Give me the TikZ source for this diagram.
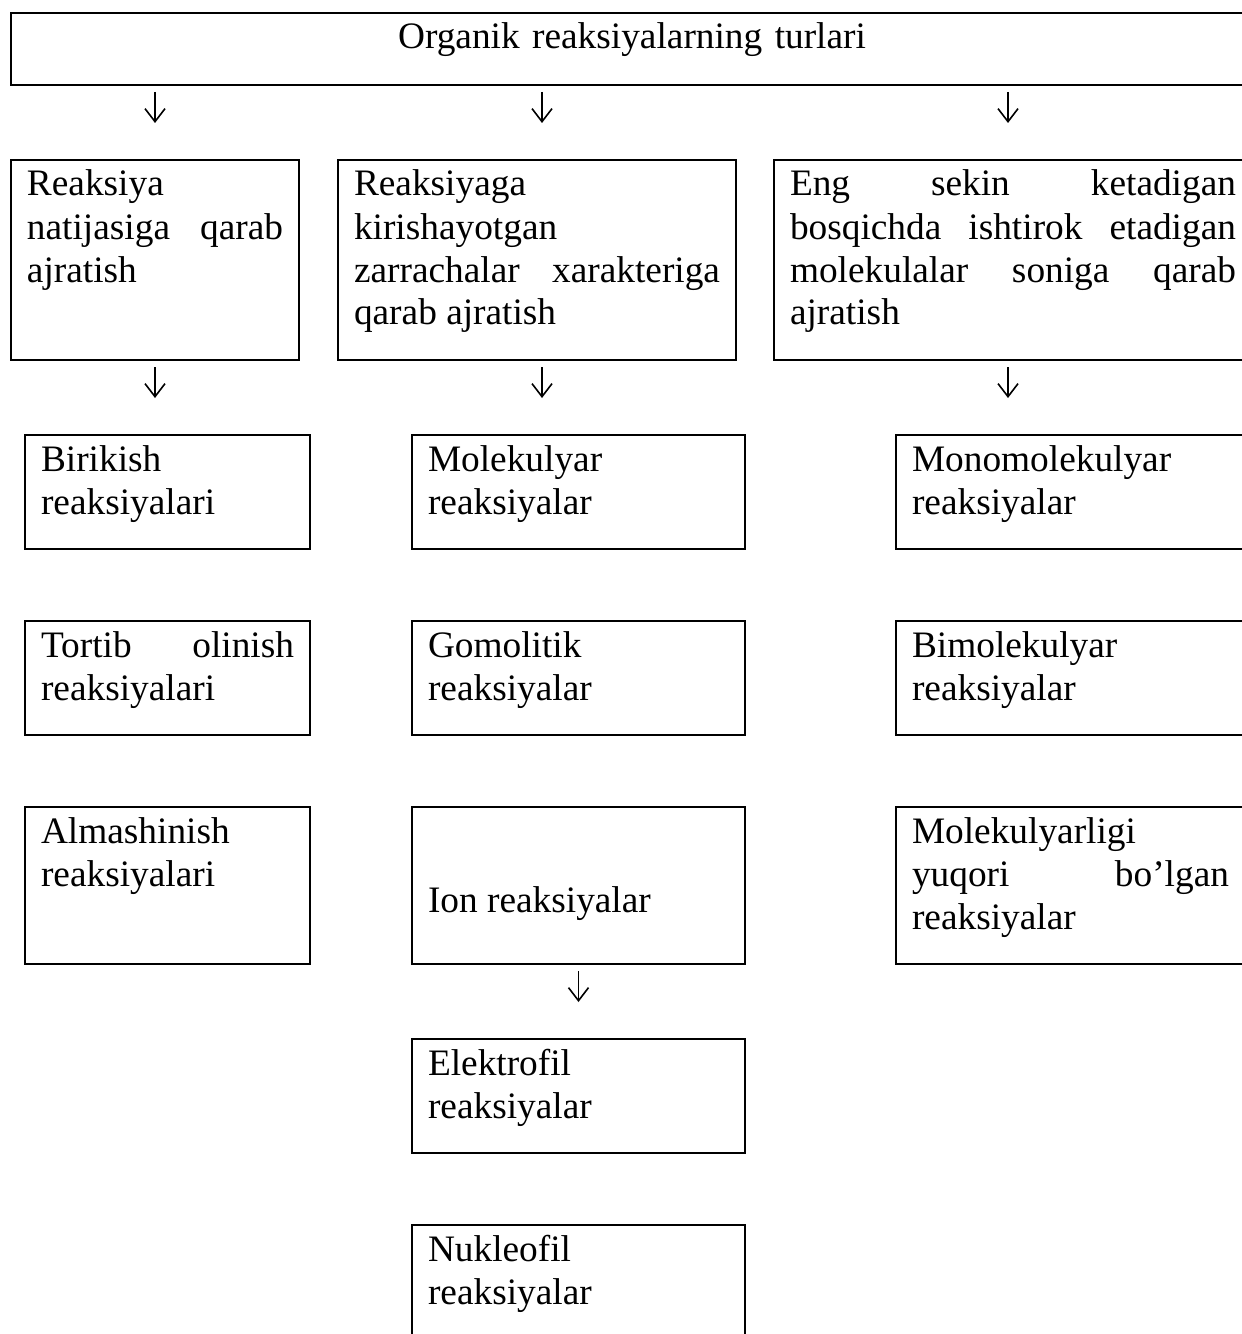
\documentclass[tikz,border=0pt]{standalone}
\usepackage{fontspec}
\setmainfont{Liberation Serif}
\usetikzlibrary{arrows.meta}
\hyphenpenalty=10000
\tolerance=10000
\tikzset{
  cell/.style 2 args={draw, line width=0.75pt, anchor=north west,
    inner xsep=6pt, inner ysep=0pt, align=justify,
    text width=#1pt, text height=13.5pt, text depth=#2pt,
    font=\fontsize{14}{16.125}\selectfont},
  arr/.style={-{Straight Barb[length=4.9pt,width=7.5pt]}, line width=0.6pt,
    shorten <=2.25pt, shorten >=13.5pt}
}
\begin{document}
\begin{tikzpicture}[x=0.375pt, y=-0.375pt]
        \useasboundingbox (0,0) rectangle (1241,1334);
        % sarlavha
        \node[cell={453.75}{13.5}, align=center] (tur) at (10,12) {Organik reaksiyalarning turlari};
        % ajratish turlari
        \node[cell={96}{61.5}] (natija) at (10,159) {Reaksiya\\ natijasiga qarab\linebreak ajratish};
        \node[cell={137.25}{61.5}] (zarra) at (337,159) {Reaksiyaga\\ kirishayotgan\\ zarrachalar xarakteriga\linebreak qarab ajratish};
        \node[cell={167.25}{61.5}] (bosqich) at (773,159) {Eng sekin ketadigan\linebreak bosqichda ishtirok etadigan\linebreak molekulalar soniga qarab\linebreak ajratish};
        % 1-ustun
        \node[cell={94.875}{29.25}] (birik) at (24,434) {Birikish\\ reaksiyalari};
        \node[cell={94.875}{29.25}] (tortib) at (24,620) {Tortib olinish\linebreak reaksiyalari};
        \node[cell={94.875}{45.375}] (almash) at (24,806) {Almashinish\\ reaksiyalari};
        % 2-ustun
        \node[cell={112.875}{29.25}] (molek) at (411,434) {Molekulyar\\ reaksiyalar};
        \node[cell={112.875}{29.25}] (gomol) at (411,620) {Gomolitik\\ reaksiyalar};
        \node[cell={112.875}{19.5}, text height=39.375pt] (ion) at (411,806) {Ion reaksiyalar};
        \node[cell={112.875}{29.25}] (elek) at (411,1038) {Elektrofil\\ reaksiyalar};
        \node[cell={112.875}{29.25}] (nukl) at (411,1224) {Nukleofil\\ reaksiyalar};
        % 3-ustun
        \node[cell={118.875}{29.25}] (mono) at (895,434) {Monomolekulyar\\ reaksiyalar};
        \node[cell={118.875}{29.25}] (bimol) at (895,620) {Bimolekulyar\\ reaksiyalar};
        \node[cell={118.875}{45.375}] (yuqori) at (895,806) {Molekulyarligi\\ yuqori bo’lgan\linebreak reaksiyalar};
        % strelkalar
        \draw[arr] (natija.north |- tur.south) -- (natija.north);
        \draw[arr] ([xshift=1.875pt]zarra.north |- tur.south) -- ([xshift=1.875pt]zarra.north);
        \draw[arr] ([xshift=-1.875pt]bosqich.north |- tur.south) -- ([xshift=-1.875pt]bosqich.north);
        \draw[arr] (natija.south) -- (natija.south |- birik.north);
        \draw[arr] ([xshift=1.875pt]zarra.south) -- ([xshift=1.875pt]zarra.south |- molek.north);
        \draw[arr] ([xshift=-1.875pt]bosqich.south) -- ([xshift=-1.875pt]bosqich.south |- mono.north);
        \draw[arr] (ion.south) -- (ion.south |- elek.north);
\end{tikzpicture}
\end{document}
